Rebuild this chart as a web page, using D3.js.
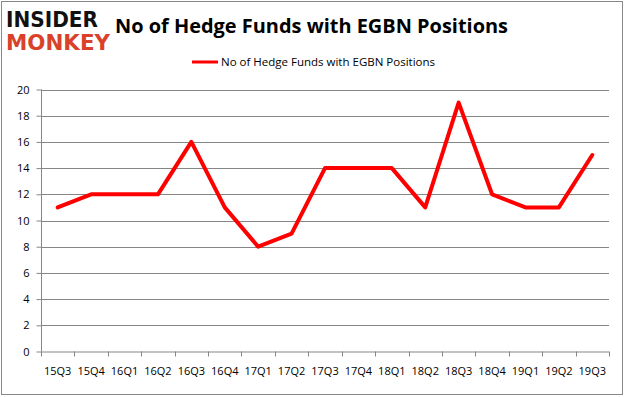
<!DOCTYPE html>
<html><head><meta charset="utf-8">
<script src="https://cdn.jsdelivr.net/npm/d3@7"></script>
<style>body{margin:0;background:#fff}svg{display:block}</style>
</head><body>
<script>
const categories = ["15Q3","15Q4","16Q1","16Q2","16Q3","16Q4","17Q1","17Q2","17Q3","17Q4","18Q1","18Q2","18Q3","18Q4","19Q1","19Q2","19Q3"];
const values = [11,12,12,12,16,11,8,9,14,14,14,11,19,12,11,11,15];
const yTicks = [0,2,4,6,8,10,12,14,16,18,20];
const title = "No of Hedge Funds with EGBN Positions";
const seriesName = "No of Hedge Funds with EGBN Positions";

(function(){
const W = 626, H = 397;
const svg = d3.select("body").append("svg").attr("width", W).attr("height", H);
svg.append("rect").attr("x",1.5).attr("y",1.5).attr("width",621).attr("height",393)
  .attr("fill","#fff").attr("stroke","#888").attr("stroke-width",1);

const pL = 41, pR = 609, pT = 89.5, pB = 351.5;
const x = d3.scaleBand().domain(categories).range([pL, pR]);
const y = d3.scaleLinear().domain([0,20]).range([pB, pT]);

// gridlines
svg.append("g").selectAll("line").data(yTicks.filter(d=>d>0)).join("line")
  .attr("x1", pL).attr("x2", pR)
  .attr("y1", d=>Math.round(y(d))+0.5).attr("y2", d=>Math.round(y(d))+0.5)
  .attr("stroke","#868686").attr("stroke-width",1);

// y axis
const yAxis = d3.axisLeft(y).tickValues(yTicks).tickSize(5).tickPadding(7);
const gy = svg.append("g").attr("transform",`translate(${pL+0.5},0)`).call(yAxis);
gy.select(".domain").attr("stroke","#868686").attr("d",`M0,${pT}V${pB}`);
gy.selectAll(".tick line").attr("stroke","#868686");
gy.selectAll(".tick text").attr("font-family","'Open Sans', 'DejaVu Sans', sans-serif").attr("font-size","11px").attr("fill","#000");

// x axis
const xAxis = d3.axisBottom(x).tickSize(0).tickPadding(16);
const gx = svg.append("g").attr("transform",`translate(0,${pB})`).call(xAxis);
gx.select(".domain").attr("stroke","#868686").attr("d",`M${pL},0.5H${pR}`);
gx.selectAll(".tick text").attr("font-family","'Open Sans', 'DejaVu Sans', sans-serif").attr("font-size","11px").attr("fill","#000");
// tick marks at band boundaries
const bounds = categories.map(c=>x(c)).concat([pR]);
svg.append("g").selectAll("line").data(bounds).join("line")
  .attr("x1", d=>Math.round(d)+0.5).attr("x2", d=>Math.round(d)+0.5)
  .attr("y1", pB).attr("y2", pB+5).attr("stroke","#868686");

// line
const line = d3.line().x((d,i)=>x(categories[i])+x.bandwidth()/2).y(d=>y(d));
svg.append("path").datum(values).attr("d", line).attr("fill","none")
  .attr("stroke","#ff0000").attr("stroke-width",4).attr("stroke-linejoin","round").attr("stroke-linecap","round");

// title
svg.append("text").attr("x",115).attr("y",33).text(title)
  .attr("font-family","'Open Sans', 'Liberation Sans', sans-serif").attr("font-weight","bold")
  .attr("font-size","20px").attr("textLength",393).attr("lengthAdjust","spacingAndGlyphs").attr("fill","#000");

// legend
svg.append("line").attr("x1",192).attr("x2",218).attr("y1",62).attr("y2",62).attr("stroke","#ff0000").attr("stroke-width",3);
svg.append("text").attr("x",221).attr("y",66).text(seriesName)
  .attr("font-family","'Open Sans', 'DejaVu Sans', sans-serif").attr("font-size","11px")
  .attr("textLength",214).attr("lengthAdjust","spacingAndGlyphs").attr("fill","#000");

// logo
svg.append("text").attr("x",6).attr("y",27).text("INSIDER")
  .attr("font-family","'DejaVu Sans', sans-serif").attr("font-weight","bold").attr("font-size","22px")
  .attr("textLength",92).attr("lengthAdjust","spacingAndGlyphs").attr("fill","#111");
svg.append("text").attr("x",6).attr("y",50).text("MONKEY")
  .attr("font-family","'DejaVu Sans', sans-serif").attr("font-weight","bold").attr("font-size","22px")
  .attr("textLength",104).attr("lengthAdjust","spacingAndGlyphs").attr("fill","#d9412b");
})();
</script>
</body></html>
